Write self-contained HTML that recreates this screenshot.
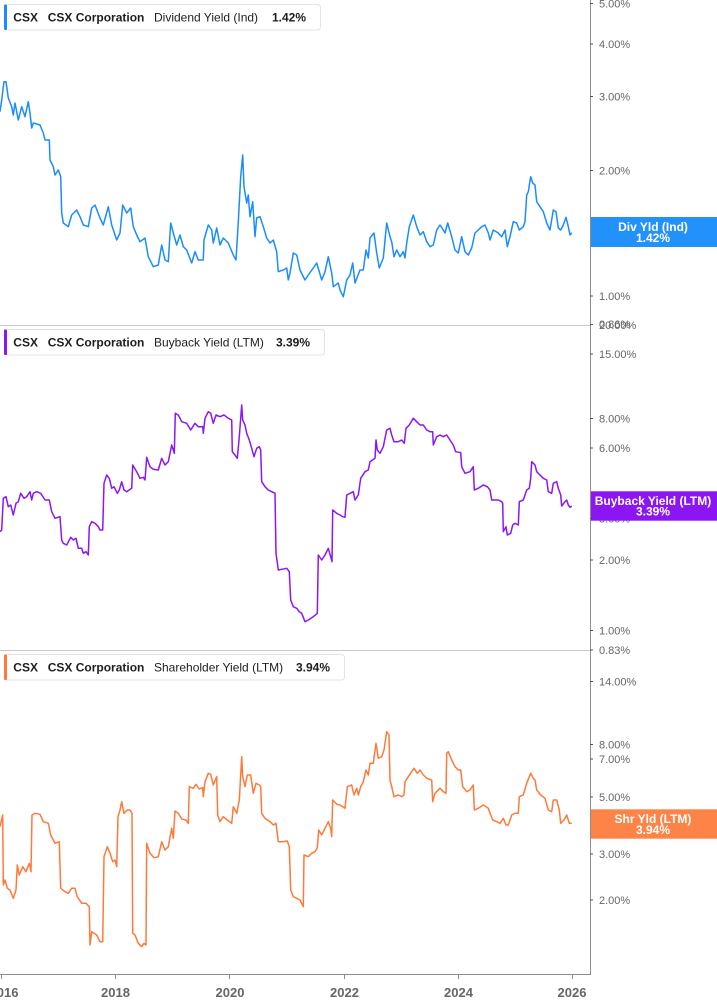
<!DOCTYPE html>
<html>
<head>
<meta charset="utf-8">
<style>
  html,body{margin:0;padding:0;background:#fff;}
  body{width:717px;height:1005px;overflow:hidden;}
  svg{display:block;font-family:"Liberation Sans",Arial,sans-serif;}
  .ax{font-size:11px;fill:#666;}
  .yr{font-size:13px;font-weight:bold;fill:#666;text-anchor:middle;}
  .lg{font-size:12px;fill:#1e1e1e;}
  .b{font-weight:bold;}
  .tag{font-size:12px;font-weight:bold;fill:#fff;text-anchor:middle;}
</style>
</head>
<body>
<svg width="717" height="1005" viewBox="0 0 717 1005" xmlns="http://www.w3.org/2000/svg">
  <rect x="0" y="0" width="717" height="1005" fill="#fff"/>

  <!-- panel separators -->
  <line x1="0" y1="325.5" x2="590" y2="325.5" stroke="#c9c9c9" stroke-width="1"/>
  <line x1="0" y1="650.5" x2="590" y2="650.5" stroke="#c9c9c9" stroke-width="1"/>

  <!-- axes -->
  <line x1="590.5" y1="0" x2="590.5" y2="975" stroke="#8c8c8c" stroke-width="1"/>
  <line x1="0" y1="974.5" x2="591" y2="974.5" stroke="#8c8c8c" stroke-width="1"/>

  <!-- x ticks -->
  <g stroke="#8c8c8c" stroke-width="1">
    <line x1="1.5" y1="974" x2="1.5" y2="979"/>
    <line x1="115.5" y1="974" x2="115.5" y2="979"/>
    <line x1="229.5" y1="974" x2="229.5" y2="979"/>
    <line x1="344.5" y1="974" x2="344.5" y2="979"/>
    <line x1="458.5" y1="974" x2="458.5" y2="979"/>
    <line x1="572.5" y1="974" x2="572.5" y2="979"/>
  </g>
  <text class="yr" x="4" y="997">2016</text>
  <text class="yr" x="115.5" y="997">2018</text>
  <text class="yr" x="230" y="997">2020</text>
  <text class="yr" x="344.5" y="997">2022</text>
  <text class="yr" x="458.5" y="997">2024</text>
  <text class="yr" x="572" y="997">2026</text>

  <!-- y ticks -->
  <g stroke="#555" stroke-width="1">
    <line x1="590" y1="3.5" x2="593" y2="3.5"/>
    <line x1="590" y1="44" x2="593" y2="44"/>
    <line x1="590" y1="96.5" x2="593" y2="96.5"/>
    <line x1="590" y1="170.5" x2="593" y2="170.5"/>
    <line x1="590" y1="296" x2="593" y2="296"/>
    <line x1="590" y1="324.5" x2="593" y2="324.5"/>
    <line x1="590" y1="354" x2="593" y2="354"/>
    <line x1="590" y1="418.5" x2="593" y2="418.5"/>
    <line x1="590" y1="448" x2="593" y2="448"/>
    <line x1="590" y1="518.5" x2="593" y2="518.5"/>
    <line x1="590" y1="560" x2="593" y2="560"/>
    <line x1="590" y1="630.5" x2="593" y2="630.5"/>
    <line x1="590" y1="650" x2="593" y2="650"/>
    <line x1="590" y1="681.5" x2="593" y2="681.5"/>
    <line x1="590" y1="744.5" x2="593" y2="744.5"/>
    <line x1="590" y1="759" x2="593" y2="759"/>
    <line x1="590" y1="797" x2="593" y2="797"/>
    <line x1="590" y1="854" x2="593" y2="854"/>
    <line x1="590" y1="900" x2="593" y2="900"/>
  </g>
  <!-- y labels -->
  <text class="ax" x="599" y="7.5">5.00%</text>
  <text class="ax" x="599" y="48">4.00%</text>
  <text class="ax" x="599" y="100.5">3.00%</text>
  <text class="ax" x="599" y="174.5">2.00%</text>
  <text class="ax" x="599" y="300">1.00%</text>
  <text class="ax" x="599" y="328">0.86%</text>
  <text class="ax" x="599" y="329">20.00%</text>
  <text class="ax" x="599" y="358">15.00%</text>
  <text class="ax" x="599" y="422.5">8.00%</text>
  <text class="ax" x="599" y="452">6.00%</text>
  <text class="ax" x="599" y="522.5">3.00%</text>
  <text class="ax" x="599" y="564">2.00%</text>
  <text class="ax" x="599" y="634.5">1.00%</text>
  <text class="ax" x="599" y="654">0.83%</text>
  <text class="ax" x="599" y="685.5">14.00%</text>
  <text class="ax" x="599" y="748.5">8.00%</text>
  <text class="ax" x="599" y="763">7.00%</text>
  <text class="ax" x="599" y="801">5.00%</text>
  <text class="ax" x="599" y="858">3.00%</text>
  <text class="ax" x="599" y="904">2.00%</text>

  <!-- series 1: dividend yield -->
  <polyline fill="none" stroke="#1a8cff" stroke-width="1.5" stroke-linejoin="round" points="0,111.7 1.7,100 4,81.7 6,81.7 8.3,98 11.7,106.7 13.3,115 15,103 18.3,120 21.7,106.7 25,116.7 28.3,101.7 30,113 31.7,128 33.3,123 40,125 43.3,133 45,140 49.3,140 50,160 53.3,166.7 55,175 58.3,170 60.7,176.7 61.7,213 63.3,223 68.3,226.7 71.7,215 76.7,210 80,216.7 83.3,225 88.3,226.7 91.7,208 95,205 100,218 103.3,225 108.3,206.7 111.7,225 116.7,240 120,233 122.7,205 126.7,213 130.7,208 133.3,226.7 136.7,235 140,241.7 145,238 148.3,256.7 153.3,266.7 158.3,265 161.7,245 165,260 168.3,261.7 170.7,223 173.3,233 176.7,245 180,235 183.3,246.7 186.7,250 191.7,263 195,251.7 198.3,260 203.3,260 204,240 208.3,225 211.7,230 213.3,243 216.7,228 220,245 223.3,238 228.3,243 233.3,255 236,260 238.3,221.7 240.7,176.7 242.7,155 244,186.7 246.7,203 248.3,195 250,216.7 252.7,201.7 255,236.7 256.7,218 260,216.7 263.3,226.7 266.7,238 270,243 273.3,240 276.7,251.7 278.3,271.7 283.3,270 286.7,268 288.3,280 290,273 293.3,253 296.7,255 300,270 305,280 308.3,275 313.3,268 316.7,263 321.7,280 325,271.7 328.3,256.7 331.7,273 333.3,286.7 338.3,283 340,290 343.3,296.7 346.7,280 350,275 352.7,263 355,283 360,270 363.3,270 366,250 368.3,258 370,238 374,233 376.7,253 379.3,268 383.3,258 386.7,223 390,236.7 391.7,241.7 394,256.7 396.7,250 400,256.7 403.3,251.7 405,258 406.7,243 409.3,226.7 413.3,215 416.7,226.7 420,235 423.3,231.7 426.7,241.7 430,246.7 433.3,245 436.7,230 440,225 443.3,230 445,233 447.7,223 451.7,236.7 455,250 458.3,253 461.7,236.7 465,251.7 468.3,255 471.7,248 475,233 478.3,230 481.7,226.7 485,225 488.3,233 490,240 493.3,230 498.3,233 501.7,236.7 505,230 507.3,246.7 510,236.7 513.3,221.7 516.7,223 519.3,230 523.3,226.7 525,221.7 526.7,195 528.3,191.7 530.7,176.7 532.7,183 535,185 536.7,201.7 540,206.7 543.3,211.7 546.7,223 550,230 553.3,210 556,211.7 558.3,228 560.7,230 563.3,225 566,217.3 568.3,226.7 570,235 571.7,232.7"/>

  <!-- series 2: buyback yield -->
  <polyline fill="none" stroke="#8a17f5" stroke-width="1.5" stroke-linejoin="round" points="0,531.7 1.7,530 3.3,498.3 6,496.7 8.3,506.7 10.7,505 13.3,515 16,503.3 18.3,501.7 20.7,493.3 24,498.3 26.7,496.7 30,491.7 31.7,500 33.3,493.3 36.7,491.7 40.7,493.3 45,500 49.3,500 51.7,511.7 55,518.3 60,516.7 61.7,540 63.3,543.3 66.7,545 70.7,537.3 73.3,540 76,538.3 78.3,548.3 81.7,548.3 83.3,553.3 86,551.7 88.3,555 89.3,526.7 91.7,521.7 95,523.3 98.3,526.7 100,530 102.7,530 104,483.3 106.7,475 109.3,478.3 111.7,488.3 114,486.7 117.3,493.3 119.3,490 121.7,481.7 124,490 126.7,491.7 131.7,488.3 132.7,465 136.7,471.7 140,478.3 143.3,477.3 145,480 146.7,457.3 150,466.7 153.3,469.3 158.3,470 161.7,458.3 165,465 168.3,461.7 171.7,445 174.3,453.3 175.3,413.3 178.3,415 181.7,421.7 186.7,423.3 190.7,430 195,423.3 198.3,426.7 202.7,426.7 203.3,433.3 205,418.3 208.3,411.7 210.7,413.3 213.3,423.3 216,415 220,416.7 224,415 228.3,418.3 231.7,420 232.3,451.7 235,455 237.3,458.3 239.3,436.7 241.7,405 242.7,420 245,425 246.7,433.3 249.3,440 251.7,448.3 254,456.7 256.7,448.3 259.3,446.7 260.7,450 261.7,481.7 265,486.7 268.3,490 271.7,491.7 275,493.3 276,553.3 278.3,570 281.7,569.3 286.7,568.3 289.3,571.7 290.7,600 293.3,606.7 296.7,608.3 299.3,611.7 301.7,613.3 305,621.7 308.3,620 313.3,616.7 317.3,613.3 318.3,555 321.7,560 325,555 328.3,548.3 330.7,556.7 332,561.7 332.7,510 336.7,513.3 340,515 342.7,516.7 345,517.3 346.7,495 350,493.3 353.3,491.7 355,500 358.3,495 360.7,478.3 365,471.7 368.3,470 370,461.7 375,458.3 376,440 377.3,450 380,453.3 383.3,446.7 386.7,430 390,428.3 391.7,435 394,441.7 398.3,441.7 401.7,440 404.3,443.3 406,428.3 409.3,425 413.3,418.3 416.7,421.7 420,425 423.3,425 426.7,430 430,431.7 432.7,431.7 433.3,445 436.7,436.7 440,435 443.3,436.7 446.7,435 450,440 453.3,445 455.7,451.7 460.7,452.7 461.7,466.7 465,473.3 470,471.7 473.3,466.7 474.3,490 478.3,488.3 483.3,485 487.3,486.7 490,490 491.7,500 495,500 498.3,500 501.7,501.7 502.7,503.3 503.3,531.7 506,526.7 507.3,535 510.7,533.3 512.7,525 515,523.3 518.3,525 519.3,501.7 523.3,500 526.7,490 529.3,488.3 530.7,478.3 531.7,461.7 535,465 536.7,471.7 540,475 543.3,478.3 546.7,480 548.3,491.7 551.7,493.3 553.3,483.3 556.7,481.7 558.3,488.3 560.7,495 561.7,506 565,501.7 566.7,500 568.3,505 570,507.3 571.7,506"/>

  <!-- series 3: shareholder yield -->
  <polyline fill="none" stroke="#ff7a3a" stroke-width="1.5" stroke-linejoin="round" points="0,826.7 2.7,815 3.3,885 5,880 7.3,888.3 10,890 13.3,898.3 16,890 17.3,865 19.3,875 22.7,866.7 26,871.7 29.3,863.3 31,871.7 32,815 35,813.3 40,814.3 43.3,821.7 48.3,823.3 50.7,835 55,843.3 59.3,841.7 60.7,888.3 65,891.7 68.3,893.3 71.7,888.3 75,888.3 77.3,896.7 81.7,903.3 86,903.3 89.3,906.7 90,945 91.7,931.7 96.7,935 100,941.7 102.7,941.7 104,856.7 107.3,846.7 110,853.3 112.7,861.7 115,860 116.7,866.7 118,816.7 120,810 121.7,801.7 124,813.3 127.3,810 130,810 132,813.3 132.7,933.3 135,935 138.3,943.3 141.7,946.7 144,943.3 146,945 146.7,843.3 150,853.3 154,857.7 158.3,856.7 161.7,841.7 165,850 168.3,846.7 171.7,828.3 173.3,838.3 175,811 178.3,813.3 181.7,819 186,820 188.3,823.3 189.3,786.7 193.3,788.3 196,784.3 199.3,789 202.7,787.7 203.3,796.7 205,781.7 208.3,773.3 210.7,774.3 213.3,785 216.7,776.7 217.7,815 220,821.7 223.3,816.7 227.3,820 231.7,823.3 233.3,806.7 236.7,813.3 239.3,800 241.7,756.7 242.7,776.7 245,786.7 247.3,775 250.7,775 253.3,793.3 256,783.3 259.3,785 260.7,786.7 261.7,813.3 265,818.3 270,821.7 273.3,825 276,823.3 278.3,841.7 282.7,841.7 287.3,841 289.3,846.7 290.7,890 293.3,896.7 296.7,898.3 300,900 303.3,906.7 304,855 308.3,856.7 311.7,853.3 315,851.7 317.3,847.7 318.7,830 321.7,835 325,828.3 328.3,821.7 330.7,828.3 331.7,836.7 332.7,800 336.7,804.3 340,805 342.7,806.7 345,808.3 347.3,786.7 351.7,785 354,795 356.7,788.3 358.3,795 360.7,786.7 363.3,781.7 366,770 368.3,775 370,763.3 373.3,763.3 376,743.3 378.3,758.3 381.7,756.7 384,750 386.7,731.7 389,735 390,780 391.7,786.7 394,796.7 398.3,795 401.7,796.7 404,795 405,781.7 408.3,776.7 411.7,771.7 414,768.3 417.3,773.3 420,770 423.3,775 426.7,778.3 431.7,780 432.7,801.7 435,793.3 440,788.3 443.3,791.7 446,793.3 446.7,753.3 448.3,751.7 451.7,760 455,766.7 458.3,770 460.7,770 462.7,786.7 466.7,791.7 470,790 473.3,785 474.3,810 478.3,808.3 483.3,805 488.3,808.3 490.7,815 492.7,820 496.7,821.7 500,823.3 503.3,818.3 506,825 508.3,825 511.7,815 515,813.3 518.3,813.3 519.3,796.7 523.3,795 526.7,783.3 530.7,773.3 533.3,778.3 535,780 536.7,790 540.7,795 545,798.3 548.3,810 551.7,811.7 553.3,800 556.7,800 559.3,810 560.7,823.3 564,820 566.7,815 569.3,823.3 571.7,823.3"/>

  <!-- right value tags -->
  <rect x="591" y="217" width="126" height="30" fill="#2391fb"/>
  <text class="tag" x="653" y="231">Div Yld (Ind)</text>
  <text class="tag" x="653" y="241.8">1.42%</text>

  <rect x="591" y="491.3" width="126" height="29.4" fill="#8c15f4"/>
  <text class="tag" x="653" y="504.8">Buyback Yield (LTM)</text>
  <text class="tag" x="653" y="515.5">3.39%</text>

  <rect x="591" y="809.3" width="126" height="29.4" fill="#fd8446"/>
  <text class="tag" x="653" y="822.8">Shr Yld (LTM)</text>
  <text class="tag" x="653" y="833.8">3.94%</text>

  <!-- legend 1 -->
  <rect x="4.5" y="4.5" width="316" height="25.5" rx="3" ry="3" fill="#fff" stroke="#e3e3e3" stroke-width="1"/>
  <rect x="4" y="4.5" width="3" height="25.5" rx="1" fill="#1a8cff"/>
  <text class="lg b" x="13.3" y="21.5">CSX</text>
  <text class="lg b" x="47.7" y="21.5">CSX Corporation</text>
  <text class="lg" x="154" y="21.5">Dividend Yield (Ind)</text>
  <text class="lg b" x="272" y="21.5">1.42%</text>

  <!-- legend 2 -->
  <rect x="4.5" y="329.5" width="320" height="25.5" rx="3" ry="3" fill="#fff" stroke="#e3e3e3" stroke-width="1"/>
  <rect x="4" y="329.5" width="3" height="25.5" rx="1" fill="#8a17f5"/>
  <text class="lg b" x="13.3" y="346.5">CSX</text>
  <text class="lg b" x="47.7" y="346.5">CSX Corporation</text>
  <text class="lg" x="154" y="346.5">Buyback Yield (LTM)</text>
  <text class="lg b" x="276" y="346.5">3.39%</text>

  <!-- legend 3 -->
  <rect x="4.5" y="654.5" width="340" height="25.5" rx="3" ry="3" fill="#fff" stroke="#e3e3e3" stroke-width="1"/>
  <rect x="4" y="654.5" width="3" height="25.5" rx="1" fill="#ff7a3a"/>
  <text class="lg b" x="13.3" y="671.5">CSX</text>
  <text class="lg b" x="47.7" y="671.5">CSX Corporation</text>
  <text class="lg" x="154" y="671.5">Shareholder Yield (LTM)</text>
  <text class="lg b" x="296" y="671.5">3.94%</text>
</svg>
</body>
</html>
